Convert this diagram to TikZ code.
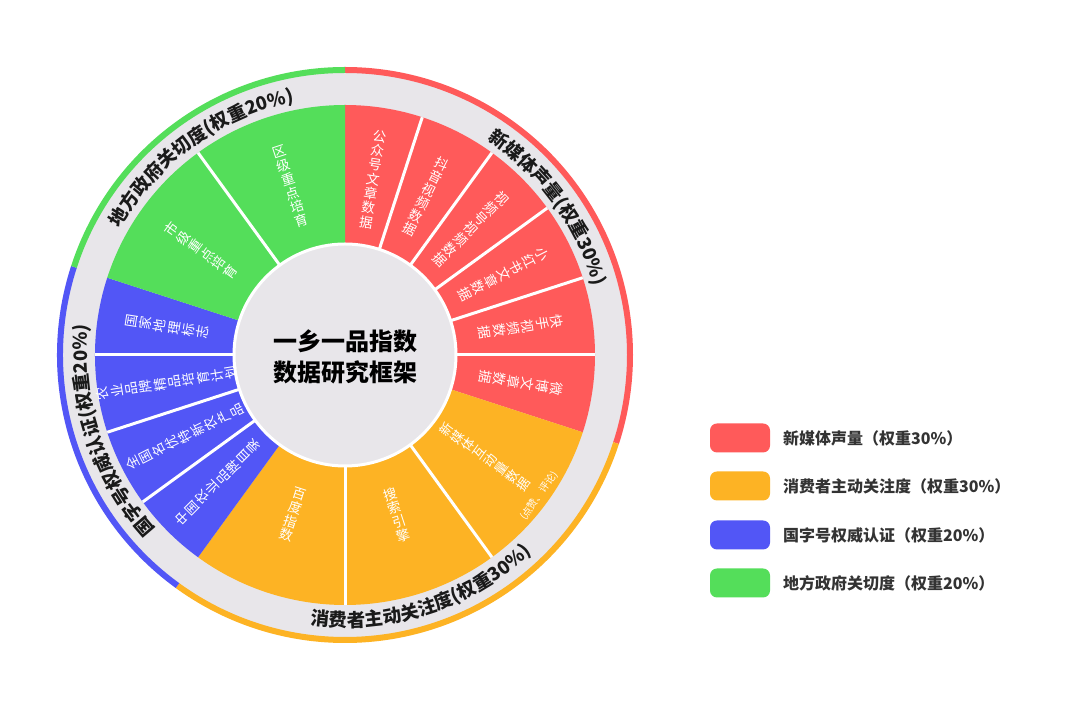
\documentclass[tikz,border=0pt]{standalone}
\usepackage{fontspec}
\setmainfont{Noto Sans CJK SC}
\usetikzlibrary{decorations.text}
\definecolor{cred}{HTML}{FF5A5A}
\definecolor{corange}{HTML}{FDB324}
\definecolor{cblue}{HTML}{5256F6}
\definecolor{cgreen}{HTML}{54DE5A}
\definecolor{cgray}{HTML}{E8E6EA}
\definecolor{ctext}{HTML}{1A1A1A}
\definecolor{clegend}{HTML}{333333}
\tikzset{
  seg/.style={text=white, font=\fontsize{13.5}{14.5}\selectfont, align=center, inner sep=0pt},
  divline/.style={draw=white, line width=3pt},
  arclabel/.style={decorate, decoration={text along path, text align=center, text color=ctext,
     text={|\fontsize{18.5}{18.5}\selectfont\bfseries|#1}}},
  legbox/.style={rounded corners=7pt, minimum width=60pt, minimum height=29pt, inner sep=0pt},
  legtext/.style={anchor=west, text=clegend, font=\fontsize{16}{16}\selectfont\bfseries, inner sep=0pt},
}
\begin{document}
\begin{tikzpicture}[x=1pt,y=1pt]
\useasboundingbox[fill=white] (0,0) rectangle (1080,717);
\begin{scope}[shift={(345,362)}]
  % gray band
  \fill[cgray] (0,0) circle[radius=283];
  % group wedges
  \fill[cred] (0,0) -- (90:250) arc[start angle=90, end angle=-18, radius=250] -- cycle;
  \fill[corange] (0,0) -- (-18:250) arc[start angle=-18, end angle=-126, radius=250] -- cycle;
  \fill[cblue] (0,0) -- (234:250) arc[start angle=234, end angle=162, radius=250] -- cycle;
  \fill[cgreen] (0,0) -- (162:250) arc[start angle=162, end angle=90, radius=250] -- cycle;
  % divider lines
  \foreach \a in {72,54,36,18,0,-54,-90,180,198,216,126}
    \draw[divline] (\a:100) -- (\a:250);
  % inner circle
  \draw[white, line width=3pt, fill=cgray] (0,0) circle[radius=111];
  % outer coloured arcs
  \draw[cred, line width=6pt] (90:285) arc[start angle=90, end angle=-18, radius=285];
  \draw[corange, line width=6pt] (-18:285) arc[start angle=-18, end angle=-126, radius=285];
  \draw[cblue, line width=6pt] (234:285) arc[start angle=234, end angle=162, radius=285];
  \draw[cgreen, line width=6pt] (162:285) arc[start angle=162, end angle=90, radius=285];
  % arc labels
  \path[arclabel={新媒体声量(权重30{\%})}] (90:258) arc[start angle=90, end angle=-18, radius=258];
  \path[arclabel={消费者主动关注度(权重30{\%})}] (-126:272) arc[start angle=-126, end angle=-18, radius=272];
  \path[arclabel={国字号权威认证(权重20{\%})}] (234:258) arc[start angle=234, end angle=162, radius=258];
  \path[arclabel={地方政府关切度(权重20{\%})}] (162:258) arc[start angle=162, end angle=90, radius=258];
  % centre title
  \node[font=\fontsize{24}{31}\selectfont\bfseries, align=center, text=black, inner sep=0pt] (title) at (0,-2) {一乡一品指数\\数据研究框架};
  % red items
  \node[seg, rotate=-9] (r1) at (81:178) {公\\众\\号\\文\\章\\数\\据};
  \node[seg, rotate=-27] (r2) at (63:178) {抖\\音\\视\\频\\数\\据};
  \node[seg, rotate=-45] (r3) at (45:178) {视\\频\\号\\视\\频\\数\\据};
  \node[seg, rotate=-63] (r4) at (27:178) {小\\红\\书\\文\\章\\数\\据};
  \node[seg, rotate=-81] (r5) at (9:178) {快\\手\\视\\频\\数\\据};
  \node[seg, rotate=-99] (r6) at (-9:178) {微\\博\\文\\章\\数\\据};
  % orange items
  \node[seg, rotate=54, font=\fontsize{13}{13.5}\selectfont] (o1) at (-36:173) {新\\媒\\体\\互\\动\\量\\数\\据};
  \node[seg, rotate=54, font=\fontsize{10}{12}\selectfont] (o1b) at (-36:240) {(点赞、评论)};
  \node[seg, rotate=18] (o2) at (-72:168) {搜\\索\\引\\擎};
  \node[seg, rotate=-18] (o3) at (-108:168) {百\\度\\指\\数};
  % blue items
  \node[seg, rotate=81] (b1) at (171:180) {国\\家\\地\\理\\标\\志};
  \node[seg, rotate=99] (b2) at (189:180) {农\\业\\品\\牌\\精\\品\\培\\育\\计\\划};
  \node[seg, rotate=117] (b3) at (207:180) {全\\国\\名\\优\\特\\新\\农\\产\\品};
  \node[seg, rotate=135] (b4) at (225:180) {中\\国\\农\\业\\品\\牌\\目\\录};
  % green items
  \node[seg, rotate=18] (g1) at (108:177) {区\\级\\重\\点\\培\\育};
  \node[seg, rotate=54] (g2) at (144:178) {市\\级\\重\\点\\培\\育};
\end{scope}
% legend
\node[legbox, fill=cred] (l1) at (740,279) {};
\node[legtext] (t1) at (783,279) {新媒体声量（权重30\%）};
\node[legbox, fill=corange] (l2) at (740,231) {};
\node[legtext] (t2) at (783,231) {消费者主动关注度（权重30\%）};
\node[legbox, fill=cblue] (l3) at (740,182) {};
\node[legtext] (t3) at (783,182) {国字号权威认证（权重20\%）};
\node[legbox, fill=cgreen] (l4) at (740,134) {};
\node[legtext] (t4) at (783,134) {地方政府关切度（权重20\%）};
\end{tikzpicture}
\end{document}
